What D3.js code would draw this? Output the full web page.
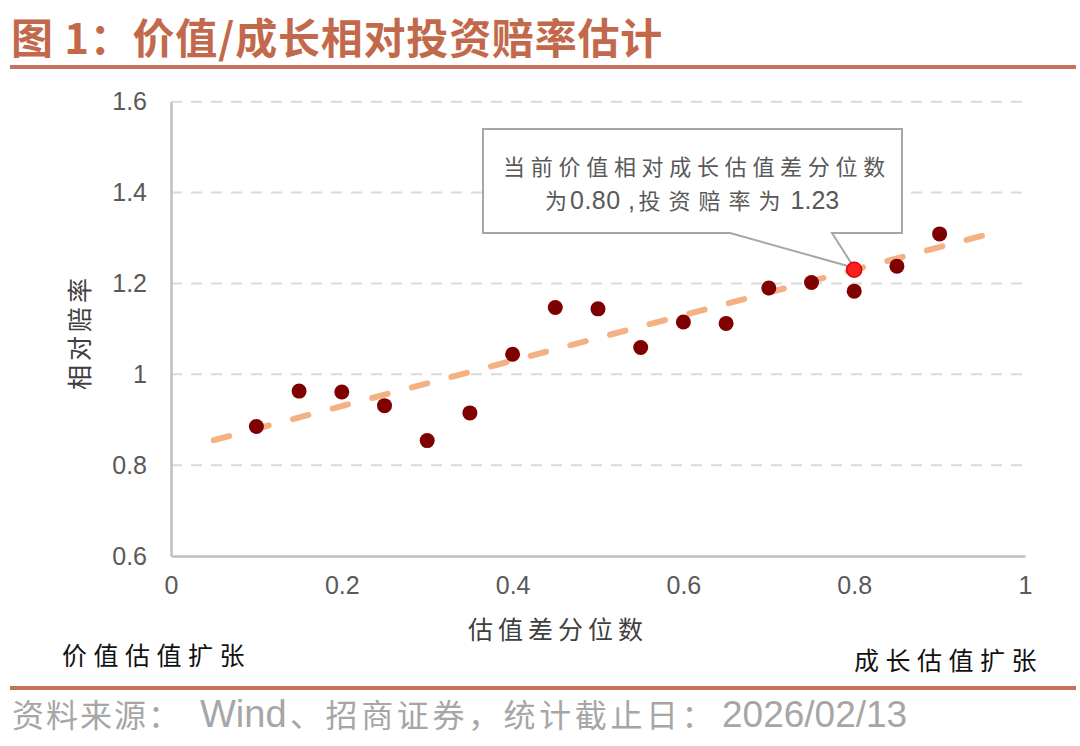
<!DOCTYPE html>
<html>
<head>
<meta charset="utf-8">
<script src="https://cdn.jsdelivr.net/npm/d3@7"></script>
<style>
  body { margin: 0; background: #fff; }
  svg { display: block; }
  .cjk { font-family: "Noto Sans CJK SC", "Noto Sans", sans-serif; }
  .num { font-family: "Liberation Sans", Arial, sans-serif; }
</style>
</head>
<body>
<div id="chart"></div>
<script>
// 估值差分位数 (x) vs 相对赔率 (y)
var pctVals = [0.10, 0.15, 0.20, 0.25, 0.30, 0.35, 0.40, 0.45, 0.50, 0.55, 0.60, 0.65, 0.70, 0.75, 0.80, 0.85, 0.90];
var oddsVals = [0.885, 0.963, 0.961, 0.931, 0.854, 0.915, 1.044, 1.147, 1.144, 1.059, 1.115, 1.112, 1.190, 1.202, 1.183, 1.238, 1.309];
var currentPoint = [0.80, 1.23];
var trendX = [0.05, 0.95];
var trendY = [0.855, 1.305];
var xTicks = [0, 0.2, 0.4, 0.6, 0.8, 1];
var yTicks = [0.6, 0.8, 1, 1.2, 1.4, 1.6];

var W = 1080, H = 746;
var svg = d3.select("#chart").append("svg").attr("width", W).attr("height", H);

var x = d3.scaleLinear().domain([0, 1]).range([171, 1025]);
var y = d3.scaleLinear().domain([0.6, 1.6]).range([556, 101.7]);

// title + rules
svg.append("text").attr("class", "cjk")
  .attr("x", 11).attr("y", 54)
  .attr("font-size", 42).attr("font-weight", 700).attr("letter-spacing", 0.8)
  .attr("fill", "#C2694C")
  .text("图 1：价值/成长相对投资赔率估计");
svg.append("rect").attr("x", 10).attr("y", 65).attr("width", 1066).attr("height", 4).attr("fill", "#C8715A");
svg.append("rect").attr("x", 10).attr("y", 686).attr("width", 1066).attr("height", 4).attr("fill", "#C8715A");

// gridlines
svg.append("g").selectAll("line")
  .data(yTicks.slice(1))
  .enter().append("line")
  .attr("x1", x(0)).attr("x2", x(1))
  .attr("y1", function(d) { return y(d); })
  .attr("y2", function(d) { return y(d); })
  .attr("stroke", "#D9D9D9").attr("stroke-width", 2)
  .attr("stroke-dasharray", "11,9");

// axes
var fmt = function(d) { return String(+d.toFixed(1)); };
var yAxis = svg.append("g").attr("transform", "translate(" + x(0) + ",0)")
  .call(d3.axisLeft(y).tickValues(yTicks).tickSize(0).tickPadding(24).tickFormat(fmt));
var xAxis = svg.append("g").attr("transform", "translate(0," + y(0.6) + ")")
  .call(d3.axisBottom(x).tickValues(xTicks).tickSize(0).tickPadding(20).tickFormat(fmt));
[yAxis, xAxis].forEach(function(a) {
  a.select(".domain").attr("stroke", "#BFBFBF").attr("stroke-width", 2.5);
  a.selectAll("text").attr("class", "num").attr("font-size", 25).attr("fill", "#595959");
});

// axis titles
svg.append("text").attr("class", "cjk")
  .attr("x", 558).attr("y", 639).attr("text-anchor", "middle")
  .attr("font-size", 25).attr("letter-spacing", 5).attr("fill", "#404040")
  .text("估值差分位数");
svg.append("text").attr("class", "cjk")
  .attr("transform", "translate(89,332) rotate(-90)").attr("text-anchor", "middle")
  .attr("font-size", 25).attr("letter-spacing", 4).attr("fill", "#404040")
  .text("相对赔率");
svg.append("text").attr("class", "cjk")
  .attr("x", 62).attr("y", 665)
  .attr("font-size", 25).attr("letter-spacing", 6.5).attr("fill", "#111")
  .text("价值估值扩张");
svg.append("text").attr("class", "cjk")
  .attr("x", 1043).attr("y", 670).attr("text-anchor", "end")
  .attr("font-size", 25).attr("letter-spacing", 6.5).attr("fill", "#111")
  .text("成长估值扩张");

// trend line
svg.append("line")
  .attr("x1", x(trendX[0])).attr("y1", y(trendY[0]))
  .attr("x2", x(trendX[1])).attr("y2", y(trendY[1]))
  .attr("stroke", "#F4B183").attr("stroke-width", 6)
  .attr("stroke-linecap", "round").attr("stroke-dasharray", "16,25");

// points
svg.append("g").selectAll("circle")
  .data(pctVals)
  .enter().append("circle")
  .attr("cx", function(d) { return x(d); })
  .attr("cy", function(d, i) { return y(oddsVals[i]); })
  .attr("r", 7.5)
  .attr("fill", "#7F0000");

// callout box pointing at current point
var tipX = x(currentPoint[0]), tipY = y(currentPoint[1]);
var bx0 = 483, bx1 = 902, by0 = 129, by1 = 233;
var callout = [
  "M", bx0, by0, "L", bx1, by0, "L", bx1, by1, "L", 832, by1,
  "L", tipX, tipY - 2, "L", 730, by1, "L", bx0, by1, "Z"].join(" ");
svg.append("path").attr("d", callout)
  .attr("fill", "#fff").attr("stroke", "#A6A6A6").attr("stroke-width", 2);

svg.append("circle")
  .attr("cx", tipX).attr("cy", tipY).attr("r", 7.5)
  .attr("fill", "#FF2020").attr("stroke", "#E00000").attr("stroke-width", 1.5);

svg.append("text").attr("class", "cjk")
  .attr("x", 697).attr("y", 175).attr("text-anchor", "middle")
  .attr("font-size", 22).attr("letter-spacing", 5.7).attr("fill", "#595959")
  .text("当前价值相对成长估值差分位数");

var note2 = svg.append("text").attr("x", 545).attr("y", 209)
  .attr("font-size", 22).attr("fill", "#595959");
note2.append("tspan").attr("class", "cjk").attr("letter-spacing", 3).text("为");
note2.append("tspan").attr("class", "num").attr("font-size", 25).attr("letter-spacing", 0.5)
  .text(currentPoint[0].toFixed(2) + " ,");
note2.append("tspan").attr("class", "cjk").attr("dx", 3).attr("letter-spacing", 8).text("投资赔率为");
note2.append("tspan").attr("class", "num").attr("font-size", 25).attr("dx", 2)
  .text(currentPoint[1].toFixed(2));

// source
var src = svg.append("text").attr("y", 727).attr("fill", "#A6A6A6").attr("font-size", 32);
src.append("tspan").attr("class", "cjk").attr("x", 12).attr("letter-spacing", 2).text("资料来源：");
src.append("tspan").attr("class", "num").attr("x", 200).attr("font-size", 38).text("Wind");
src.append("tspan").attr("class", "cjk").attr("x", 290).attr("letter-spacing", 3.6).text("、招商证券，统计截止日：");
src.append("tspan").attr("class", "num").attr("x", 722).attr("font-size", 37).text("2026/02/13");
</script>
</body>
</html>
